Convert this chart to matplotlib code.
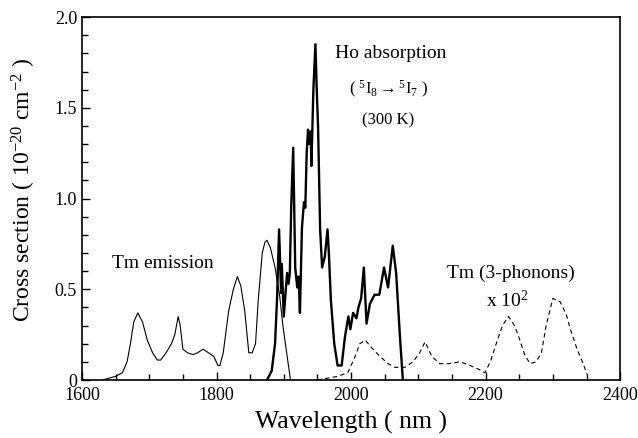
import numpy as np
import matplotlib
matplotlib.use("Agg")
import matplotlib.pyplot as plt
from matplotlib.ticker import MultipleLocator

# Tm emission (thin solid)
tm_wl = [1630, 1640, 1650, 1660, 1667, 1672, 1677, 1683, 1690, 1697, 1705, 1712, 1717,
         1725, 1733, 1738, 1743, 1746, 1750, 1757, 1765, 1772, 1780, 1788, 1796, 1802,
         1805, 1810, 1818, 1825, 1831, 1836, 1842, 1848, 1853, 1858, 1862, 1868, 1872,
         1875, 1880, 1887, 1894, 1899, 1905, 1910]
tm_cs = [0.0, 0.01, 0.02, 0.04, 0.1, 0.2, 0.32, 0.37, 0.32, 0.22, 0.15, 0.11, 0.11,
         0.15, 0.2, 0.25, 0.35, 0.3, 0.17, 0.15, 0.14, 0.15, 0.17, 0.15, 0.13, 0.08,
         0.08, 0.15, 0.38, 0.5, 0.57, 0.52, 0.38, 0.15, 0.15, 0.2, 0.44, 0.7, 0.76,
         0.77, 0.73, 0.62, 0.46, 0.29, 0.13, 0.0]

# Ho absorption (thick solid)
ho_wl = [1875, 1882, 1887, 1890, 1893, 1896, 1897, 1900, 1903, 1905, 1907, 1909, 1911,
         1914, 1917, 1920, 1922, 1924, 1927, 1930, 1932, 1934, 1936, 1938, 1940, 1941,
         1944, 1947, 1949, 1951, 1954, 1957, 1961, 1965, 1967, 1970, 1975, 1980, 1986,
         1991, 1996, 1999, 2003, 2008, 2011, 2015, 2019, 2023, 2028, 2035, 2042, 2049,
         2055, 2062, 2067, 2073, 2077]
ho_cs = [0.0, 0.05, 0.2, 0.45, 0.83, 0.48, 0.64, 0.35, 0.5, 0.59, 0.53, 0.59, 0.95,
         1.28, 0.62, 0.51, 0.57, 0.37, 0.84, 0.98, 0.95, 1.25, 1.38, 1.3, 1.37, 1.18,
         1.6, 1.85, 1.6, 1.39, 0.83, 0.62, 0.68, 0.83, 0.7, 0.44, 0.2, 0.08, 0.08,
         0.24, 0.35, 0.28, 0.37, 0.34, 0.4, 0.45, 0.62, 0.31, 0.42, 0.47, 0.47, 0.62,
         0.51, 0.74, 0.59, 0.22, 0.0]

# Tm 3-phonon (dashed, x 10^2)
ph_wl = [1950, 1965, 1980, 1995, 2005, 2013, 2021, 2030, 2043, 2055, 2065, 2080, 2092,
         2102, 2110, 2115, 2120, 2132, 2145, 2162, 2177, 2192, 2199, 2207, 2214, 2225,
         2234, 2243, 2251, 2258, 2266, 2275, 2283, 2290, 2300, 2311, 2320, 2326, 2336,
         2345, 2351]
ph_cs = [0.0, 0.01, 0.02, 0.04, 0.12, 0.2, 0.22, 0.18, 0.13, 0.09, 0.07, 0.07, 0.1,
         0.15, 0.21, 0.17, 0.13, 0.09, 0.09, 0.1, 0.08, 0.055, 0.04, 0.1, 0.18, 0.3,
         0.35, 0.3, 0.22, 0.14, 0.09, 0.1, 0.15, 0.3, 0.45, 0.43, 0.36, 0.28, 0.17,
         0.09, 0.03]

plt.rcParams['font.family'] = ['Liberation Serif', 'DejaVu Serif']
plt.rcParams['mathtext.fontset'] = 'custom'
plt.rcParams['mathtext.rm'] = 'Liberation Serif'
plt.rcParams['mathtext.it'] = 'Liberation Serif'

fig = plt.figure(figsize=(6.38, 4.38), dpi=100)
ax = fig.add_axes([0.1285, 0.1324, 0.8435, 0.8286])

ax.plot(tm_wl, tm_cs, color='black', lw=0.8)
ax.plot(ho_wl, ho_cs, color='black', lw=1.7)
ax.plot(ph_wl, ph_cs, color='black', lw=0.8, ls=(0, (4, 3)))

ax.set_xlim(1600, 2400)
ax.set_ylim(0, 2.0)
ax.xaxis.set_major_locator(MultipleLocator(200))
ax.xaxis.set_minor_locator(MultipleLocator(50))
ax.yaxis.set_major_locator(MultipleLocator(0.5))
ax.yaxis.set_minor_locator(MultipleLocator(0.1))
ax.set_yticks([0, 0.5, 1.0, 1.5, 2.0])
ax.set_yticklabels(['0', '0.5', '1.0', '1.5', '2.0'])
ax.tick_params(which='both', direction='in', top=False, right=False, labelsize=13)
ax.tick_params(which='major', length=6, width=1)
ax.tick_params(which='minor', length=4, width=1)
ax.tick_params(axis='x', pad=5)
for s in ax.spines.values():
    s.set_linewidth(1.2)

ax.set_xlabel('Wavelength ( nm )', fontsize=18.5, labelpad=5)
ax.set_ylabel(r'Cross section ( 10$^{\mathrm{-}20}$ cm$^{\mathrm{-}2}$ )', fontsize=17)
ax.yaxis.set_label_coords(-0.082, 0.525)

ax.text(1645, 0.64, 'Tm emission', fontsize=14, va='center', ha='left')
ax.text(1976, 1.80, 'Ho absorption', fontsize=14, va='center', ha='left')
ax.text(2055, 1.60, r'( $^{5}$I$_{8}$$\rightarrow$$^{5}$I$_{7}$ )', fontsize=12,
        va='center', ha='center')
ax.text(2055, 1.43, '(300 K)', fontsize=12, va='center', ha='center')
ax.text(2238, 0.59, 'Tm (3-phonons)', fontsize=14, va='center', ha='center')
ax.text(2232, 0.44, r'x 10$^{2}$', fontsize=14, va='center', ha='center')

fig.savefig('out.png', dpi=100)
